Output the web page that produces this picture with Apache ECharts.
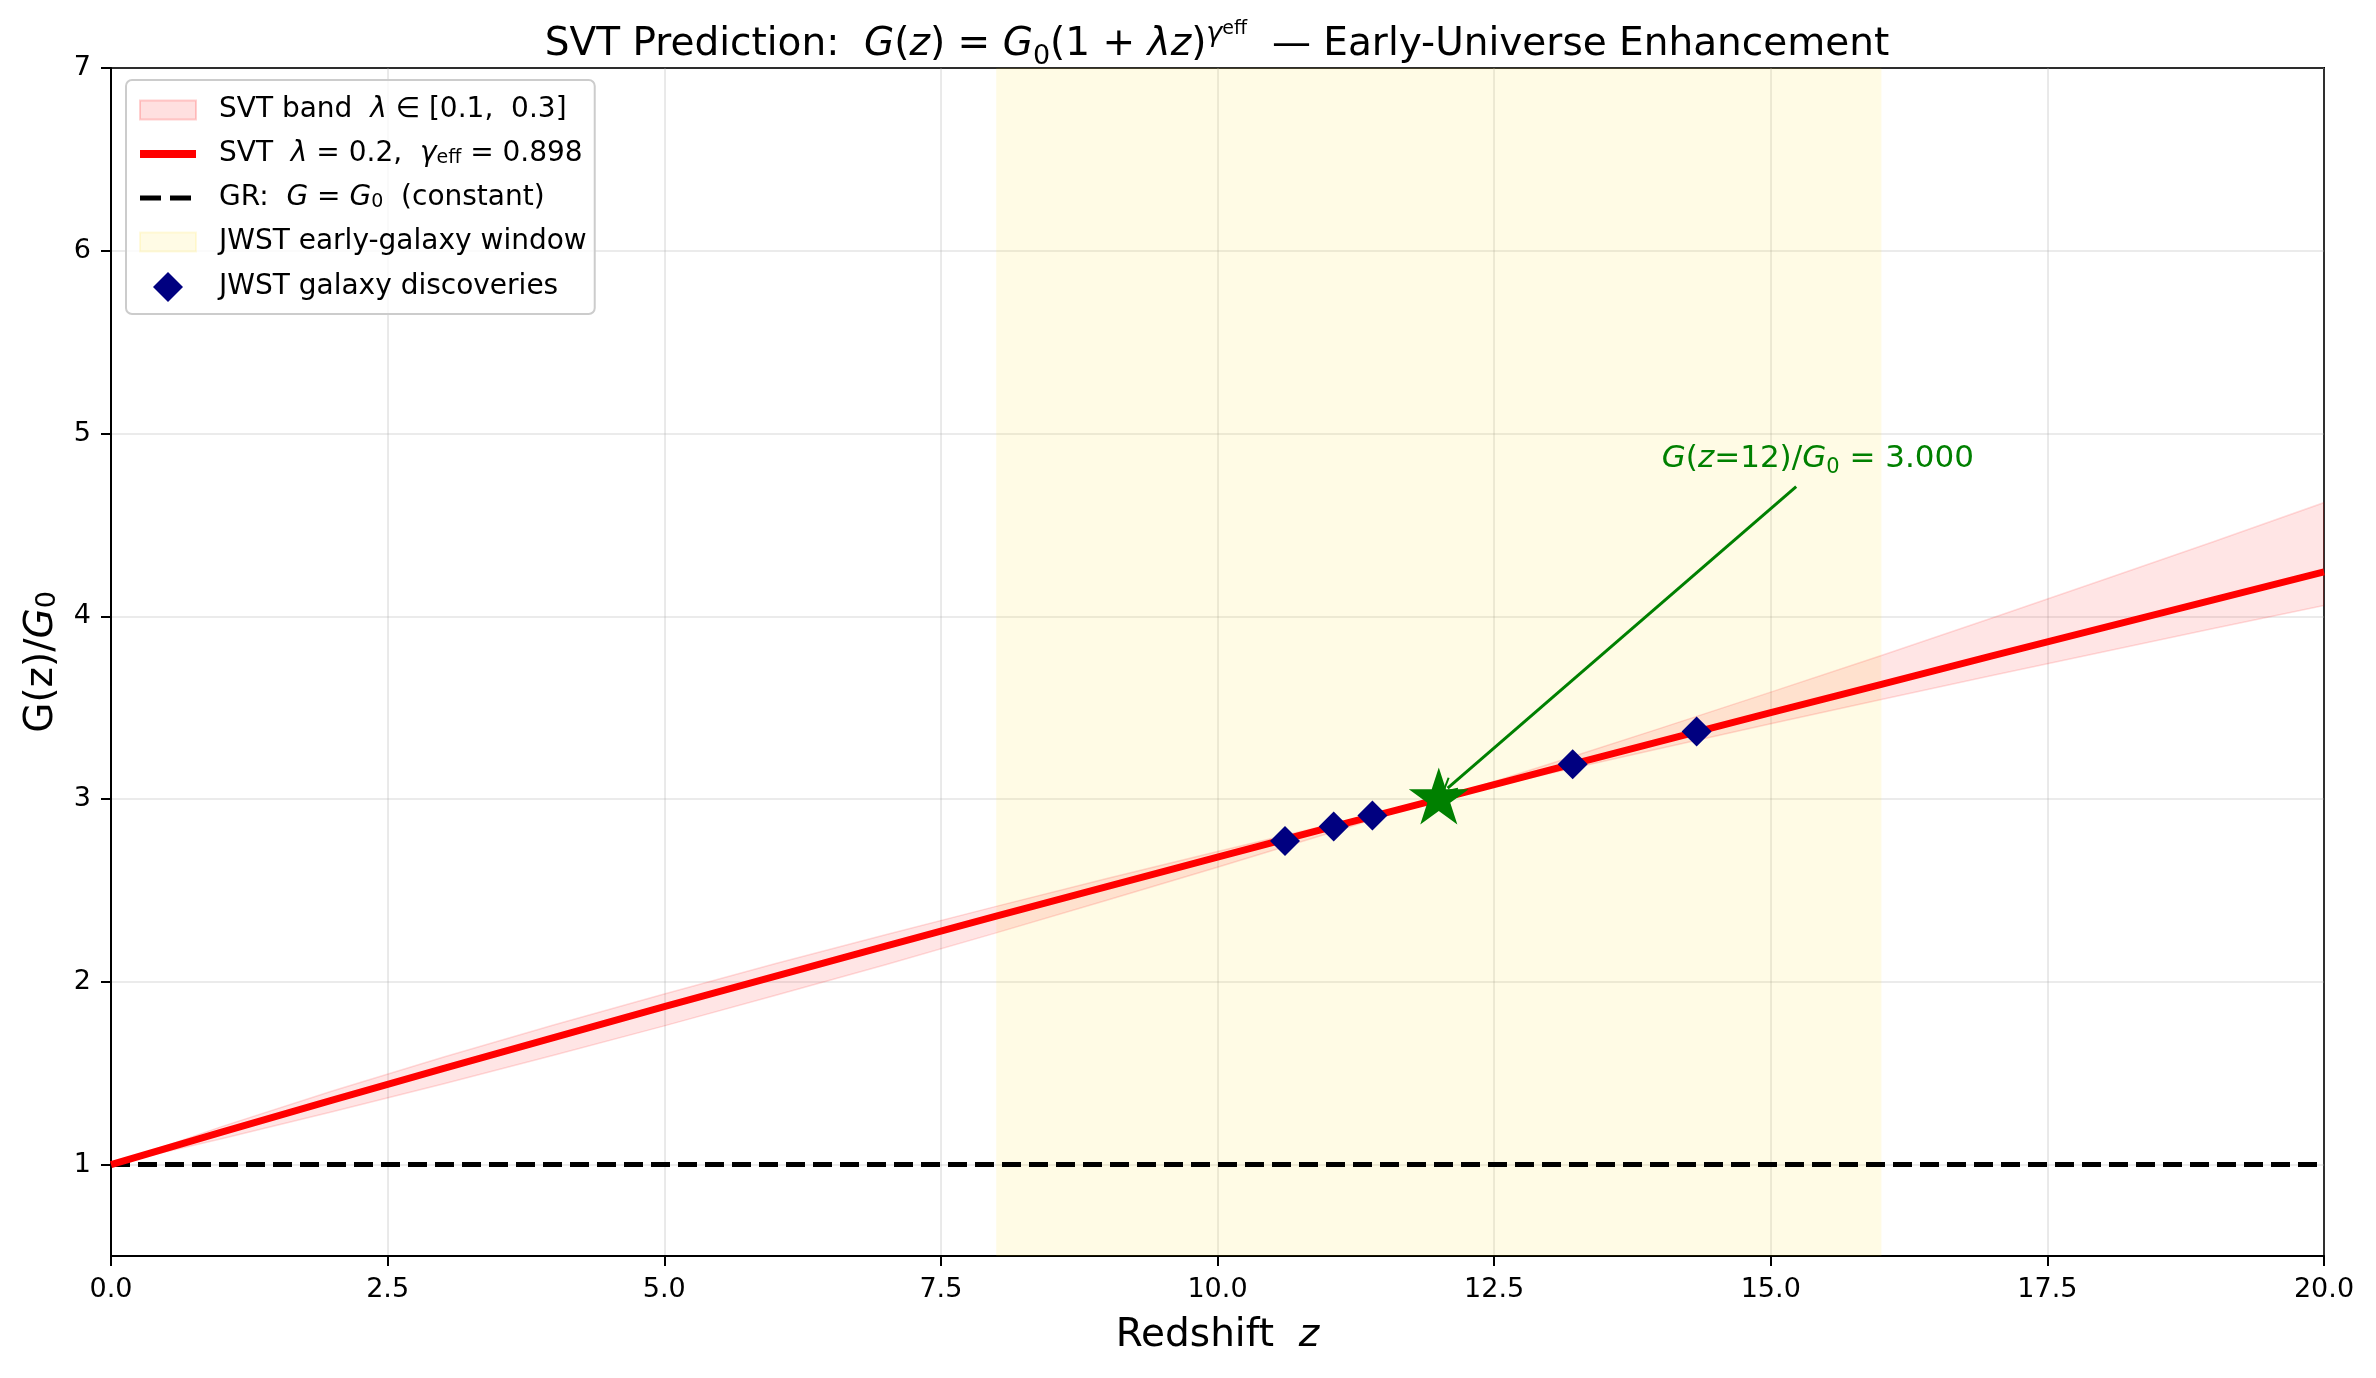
<!DOCTYPE html>
<html>
<head>
<meta charset="utf-8">
<script src="https://cdn.jsdelivr.net/npm/echarts@6/dist/echarts.min.js"></script>
<style>
  html, body { margin: 0; padding: 0; background: #fff; }
  #chart { width: 2376px; height: 1378px; }
</style>
</head>
<body>
<div id="chart"></div>
<script>
// values
var zVals = [0, 1, 2, 3, 4, 5, 6, 7, 8, 9, 10, 11, 12, 13, 14, 15, 16, 17, 18, 19, 20];
var svtCurve = [1.000, 1.178, 1.353, 1.525, 1.695, 1.864, 2.030, 2.195, 2.359, 2.521, 2.682,
                2.842, 3.000, 3.159, 3.316, 3.473, 3.628, 3.783, 3.937, 4.090, 4.243];
var bandLower = [1.000, 1.142, 1.289, 1.441, 1.598, 1.759, 1.925, 2.094, 2.268, 2.446, 2.627,
                 2.812, 3.000, 3.140, 3.277, 3.412, 3.545, 3.676, 3.805, 3.933, 4.059];
var bandUpper = [1.000, 1.208, 1.403, 1.587, 1.764, 1.934, 2.099, 2.258, 2.413, 2.565, 2.713,
                 2.858, 3.000, 3.192, 3.387, 3.585, 3.786, 3.991, 4.199, 4.408, 4.622];
var grLevel = 1;
var jwstZ = [10.61, 11.05, 11.40, 13.21, 14.33];
var jwstG = [2.77, 2.85, 2.91, 3.19, 3.37];
var windowZ = [8, 16];
var starPoint = [12, 3.0];
var notePoint = [14.02, 4.86];
var arrowFrom = [15.23, 4.71];
var arrowTo = [12.08, 3.06];
var yTicks = [1, 2, 3, 4, 5, 6, 7];

var NAME_BAND = 'SVT band';
var NAME_SVT = 'SVT curve';
var NAME_GR = 'GR';
var NAME_WIN = 'JWST early-galaxy window';
var NAME_JWST = 'JWST galaxy discoveries';

var FONT = 'DejaVu Sans';
var legendLabels = {};
legendLabels[NAME_BAND] = 'SVT band  {i|λ} ∈ [0.1,  0.3]';
legendLabels[NAME_SVT] = 'SVT  {i|λ} = 0.2,  {i|γ}{sub|eff} = 0.898';
legendLabels[NAME_GR] = 'GR:  {i|G} = {i|G}{sub|0}  (constant)';
legendLabels[NAME_WIN] = 'JWST early-galaxy window';
legendLabels[NAME_JWST] = 'JWST galaxy discoveries';

var starPath = 'path://M0,-100 L22.5,-30.9 L95.1,-30.9 L36.3,11.8 L58.8,80.9 L0,38.2 L-58.8,80.9 L-36.3,11.8 L-95.1,-30.9 L-22.5,-30.9 Z';
var chevronPath = 'path://M0,0 L8,14 L6.3,15 L0,4 L-6.3,15 L-8,14 Z';
var rectPath = 'path://M0,0 L56,0 L56,19 L0,19 Z';
var diamondPath = 'path://M0,-15 L15,0 L0,15 L-15,0 Z';

var chart = echarts.init(document.getElementById('chart'));

// legend line icons: keep the stroke, hide the marker ECharts adds
var hiddenMarker = { color: 'rgba(0,0,0,0)', borderColor: 'rgba(0,0,0,0)', borderWidth: 0, opacity: 0 };

var option = {
    animation: false,
    textStyle: { fontFamily: FONT },
    graphic: [{
        type: 'text',
        x: 1217,
        y: 45,
        style: {
            text: 'SVT Prediction:  {i|G}({i|z}) = {i|G}{sub|0}(1 + {i|λz}){sup|γ}{supsub|eff}  — Early-Universe Enhancement',
            fontFamily: FONT,
            fontSize: 39,
            fill: '#000',
            align: 'center',
            verticalAlign: 'middle',
            textAlign: 'center',
            textVerticalAlign: 'middle',
            rich: {
                i: { fontSize: 39, fontStyle: 'italic', fontFamily: FONT, lineHeight: 50 },
                sub: { fontSize: 27, fontFamily: FONT, verticalAlign: 'bottom', lineHeight: 27 },
                sup: { fontSize: 27, fontStyle: 'italic', fontFamily: FONT, verticalAlign: 'top', lineHeight: 20 },
                supsub: { fontSize: 19, fontFamily: FONT, verticalAlign: 'top', lineHeight: 34 }
            }
        }
    }],
    grid: {
        left: 111,
        right: 52,
        top: 68,
        bottom: 122,
        show: true,
        borderColor: '#000',
        borderWidth: 2,
        backgroundColor: 'transparent'
    },
    legend: {
        orient: 'vertical',
        left: 126,
        top: 80,
        padding: [16, 8, 12, 10],
        itemWidth: 56,
        itemHeight: 30,
        itemGap: 16,
        backgroundColor: 'rgba(255,255,255,0.8)',
        borderColor: '#cccccc',
        borderWidth: 2,
        borderRadius: 6,
        selectedMode: false,
        data: [
            { name: NAME_BAND, icon: rectPath, itemStyle: { color: 'rgba(255,0,0,0.12)', borderColor: 'rgba(255,0,0,0.18)', borderWidth: 2 } },
            { name: NAME_SVT, itemStyle: hiddenMarker, lineStyle: { color: '#ff0000', width: 8, type: 'solid' } },
            { name: NAME_GR, itemStyle: hiddenMarker, lineStyle: { color: '#000', width: 5, type: [21, 9] } },
            { name: NAME_WIN, icon: rectPath, itemStyle: { color: 'rgba(255,215,0,0.1)', borderColor: 'rgba(255,215,0,0.12)', borderWidth: 2 } },
            { name: NAME_JWST, icon: diamondPath, itemStyle: { color: '#000080' } }
        ],
        formatter: function (name) { return legendLabels[name]; },
        textStyle: {
            fontFamily: FONT,
            fontSize: 28,
            color: '#000',
            padding: [0, 0, 0, 18],
            rich: {
                i: { fontSize: 28, fontStyle: 'italic', fontFamily: FONT, padding: [0, 0, 0, 0] },
                sub: { fontSize: 19, fontFamily: FONT, verticalAlign: 'bottom', lineHeight: 19, padding: [0, 0, 0, 0] }
            }
        }
    },
    xAxis: {
        type: 'value',
        min: 0,
        max: 20,
        interval: 2.5,
        name: 'Redshift  {i|z}',
        nameLocation: 'middle',
        nameGap: 60,
        nameTextStyle: {
            fontFamily: FONT, fontSize: 39, color: '#000',
            rich: { i: { fontSize: 39, fontStyle: 'italic', fontFamily: FONT } }
        },
        axisLine: { show: true, onZero: false, lineStyle: { color: '#000', width: 2 } },
        axisTick: { show: true, length: 10, lineStyle: { color: '#000', width: 2 } },
        axisLabel: {
            margin: 20, fontSize: 27, color: '#000', fontFamily: FONT,
            formatter: function (v) { return v.toFixed(1); }
        },
        splitLine: { show: true, lineStyle: { color: 'rgba(176,176,176,0.34)', width: 1.6 } }
    },
    yAxis: {
        type: 'value',
        min: 0.5,
        max: 7,
        splitNumber: 7,
        name: 'G(z)/{i|G}{sub|0}',
        nameLocation: 'middle',
        nameRotate: 90,
        nameGap: 50,
        nameTextStyle: {
            fontFamily: FONT, fontSize: 39, color: '#000',
            rich: {
                i: { fontSize: 39, fontStyle: 'italic', fontFamily: FONT },
                sub: { fontSize: 27, fontFamily: FONT, verticalAlign: 'bottom', lineHeight: 27 }
            }
        },
        axisLine: { show: true, onZero: false, lineStyle: { color: '#000', width: 2 } },
        axisTick: { show: true, length: 10, customValues: yTicks, lineStyle: { color: '#000', width: 2 } },
        axisLabel: {
            margin: 20, fontSize: 27, color: '#000', fontFamily: FONT, customValues: yTicks,
            formatter: function (v) { return String(v); }
        },
        splitLine: { show: true, lineStyle: { color: 'rgba(176,176,176,0.34)', width: 1.6 } }
    },
    series: [
        {
            name: NAME_WIN,
            type: 'line',
            z: 1,
            data: [],
            symbol: 'none',
            itemStyle: { color: 'rgba(255,215,0,0.1)' },
            markArea: {
                silent: true,
                itemStyle: { color: 'rgba(255,215,0,0.1)' },
                data: [[{ xAxis: windowZ[0] }, { xAxis: windowZ[1] }]]
            }
        },
        {
            // shaded band between the lambda=0.1 and lambda=0.3 curves
            name: NAME_BAND,
            type: 'custom',
            z: 2,
            clip: true,
            silent: true,
            itemStyle: { color: 'rgba(255,0,0,0.12)' },
            data: zVals.map(function (z, i) { return [z, bandLower[i], bandUpper[i]]; }),
            encode: { x: 0, y: [1, 2] },
            renderItem: function (params, api) {
                if (params.dataIndex !== 0) return;
                var n = params.dataInsideLength;
                var pts = [];
                var i;
                for (i = 0; i < n; i++) pts.push(api.coord([api.value(0, i), api.value(2, i)]));
                for (i = n - 1; i >= 0; i--) pts.push(api.coord([api.value(0, i), api.value(1, i)]));
                return {
                    type: 'polygon',
                    shape: { points: pts },
                    style: { fill: 'rgba(255,0,0,0.1)', stroke: 'rgba(255,0,0,0.14)', lineWidth: 1.5 }
                };
            }
        },
        {
            name: NAME_GR,
            type: 'line',
            z: 3,
            symbol: 'none',
            data: [[0, grLevel], [20, grLevel]],
            itemStyle: { color: '#000' },
            lineStyle: { color: '#000', width: 5, type: [19, 8] }
        },
        {
            name: NAME_SVT,
            type: 'line',
            z: 4,
            symbol: 'none',
            data: zVals.map(function (z, i) { return [z, svtCurve[i]]; }),
            itemStyle: { color: '#ff0000' },
            lineStyle: { color: '#ff0000', width: 7 }
        },
        {
            name: NAME_JWST,
            type: 'scatter',
            z: 5,
            symbol: 'diamond',
            symbolSize: 30,
            data: jwstZ.map(function (z, i) { return [z, jwstG[i]]; }),
            itemStyle: { color: '#000080', opacity: 1 }
        },
        {
            name: 'prediction',
            type: 'scatter',
            z: 6,
            symbol: starPath,
            symbolSize: [60, 57],
            symbolOffset: [0, -3],
            data: [starPoint],
            itemStyle: { color: '#008000', opacity: 1 },
            markLine: {
                silent: true,
                symbol: ['none', chevronPath],
                symbolSize: [16, 16],
                lineStyle: { color: '#008000', width: 3, type: 'solid' },
                label: { show: false },
                data: [[{ coord: arrowFrom }, { coord: arrowTo }]]
            },
            markPoint: {
                silent: true,
                symbol: 'circle',
                symbolSize: 1,
                itemStyle: { color: 'transparent' },
                data: [{
                    coord: notePoint,
                    label: {
                        show: true,
                        position: [0, 0],
                        align: 'left',
                        verticalAlign: 'middle',
                        color: '#008000',
                        fontFamily: FONT,
                        fontSize: 31,
                        formatter: '{i|G}({i|z}=12)/{i|G}{sub|0} = 3.000',
                        rich: {
                            i: { fontSize: 31, fontStyle: 'italic', fontFamily: FONT, color: '#008000', lineHeight: 38 },
                            sub: { fontSize: 21, fontFamily: FONT, color: '#008000', verticalAlign: 'bottom', lineHeight: 21 }
                        }
                    }
                }]
            }
        }
    ]
};

chart.setOption(option);
window.addEventListener('resize', function () {
    chart.resize();
});
</script>
</body>
</html>
